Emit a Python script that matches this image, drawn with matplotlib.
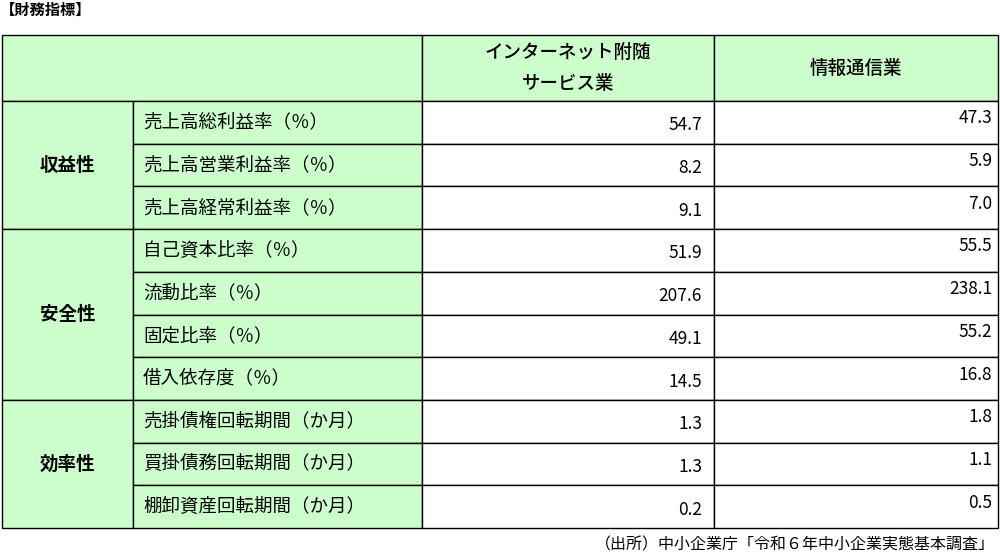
import matplotlib
matplotlib.use("Agg")
import matplotlib.pyplot as plt
from matplotlib.patches import Rectangle

plt.rcParams['font.family'] = ['Noto Sans CJK JP', 'DejaVu Sans']

title = "【財務指標】"
source = "（出所）中小企業庁「令和６年中小企業実態基本調査」"
col_headers = ["インターネット附随\nサービス業", "情報通信業"]
groups = ["収益性", "安全性", "効率性"]
group_sizes = [3, 4, 3]
items = ["売上高総利益率（％）", "売上高営業利益率（％）", "売上高経常利益率（％）",
         "自己資本比率（％）", "流動比率（％）", "固定比率（％）", "借入依存度（％）",
         "売掛債権回転期間（か月）", "買掛債務回転期間（か月）", "棚卸資産回転期間（か月）"]
internet = [54.7, 8.2, 9.1, 51.9, 207.6, 49.1, 14.5, 1.3, 1.3, 0.2]
info = [47.3, 5.9, 7.0, 55.5, 238.1, 55.2, 16.8, 1.8, 1.1, 0.5]

W, H = 1000, 556
fig = plt.figure(figsize=(W/100, H/100), dpi=100)
ax = fig.add_axes([0, 0, 1, 1])
ax.set_xlim(0, W); ax.set_ylim(H, 0); ax.axis('off')

green = "#ccffcc"
xs = [2, 133, 422, 714, 998]
top, hdr_bot, bot = 35, 101, 528
n = len(items)
rh = (bot - hdr_bot) / n
fs = 12.5
fsj = 13.3

def cell(x0, y0, x1, y1, fc):
    ax.add_patch(Rectangle((x0, y0), x1-x0, y1-y0, facecolor=fc, edgecolor='black', lw=1.0))

cell(xs[0], top, xs[2], hdr_bot, green)
for j, h in enumerate(col_headers):
    cell(xs[2+j], top, xs[3+j], hdr_bot, green)
    ax.text((xs[2+j]+xs[3+j])/2, (top+hdr_bot)/2, h, ha='center', va='center',
            fontsize=fsj, linespacing=1.8, fontweight='medium')

r = 0
for g, s in zip(groups, group_sizes):
    y0 = hdr_bot + r*rh; y1 = hdr_bot + (r+s)*rh
    cell(xs[0], y0, xs[1], y1, green)
    ax.text((xs[0]+xs[1])/2, (y0+y1)/2, g, ha='center', va='center', fontsize=fsj,
            fontweight='bold')
    r += s

for i in range(n):
    y0 = hdr_bot + i*rh; y1 = y0 + rh; yc = (y0+y1)/2
    cell(xs[1], y0, xs[2], y1, green)
    ax.text(xs[1]+10, yc, items[i], ha='left', va='center', fontsize=fsj)
    cell(xs[2], y0, xs[3], y1, 'white')
    ax.text(xs[3]-12, yc+3, f"{internet[i]:.1f}", ha='right', va='center', fontsize=fs)
    cell(xs[3], y0, xs[4], y1, 'white')
    ax.text(xs[4]-6, yc-4, f"{info[i]:.1f}", ha='right', va='center', fontsize=fs)

ax.text(0, 10, title, ha='left', va='center', fontsize=11, fontweight='bold')
ax.text(995, 545, source, ha='right', va='center', fontsize=11.5)

fig.savefig("out.png", dpi=100)
